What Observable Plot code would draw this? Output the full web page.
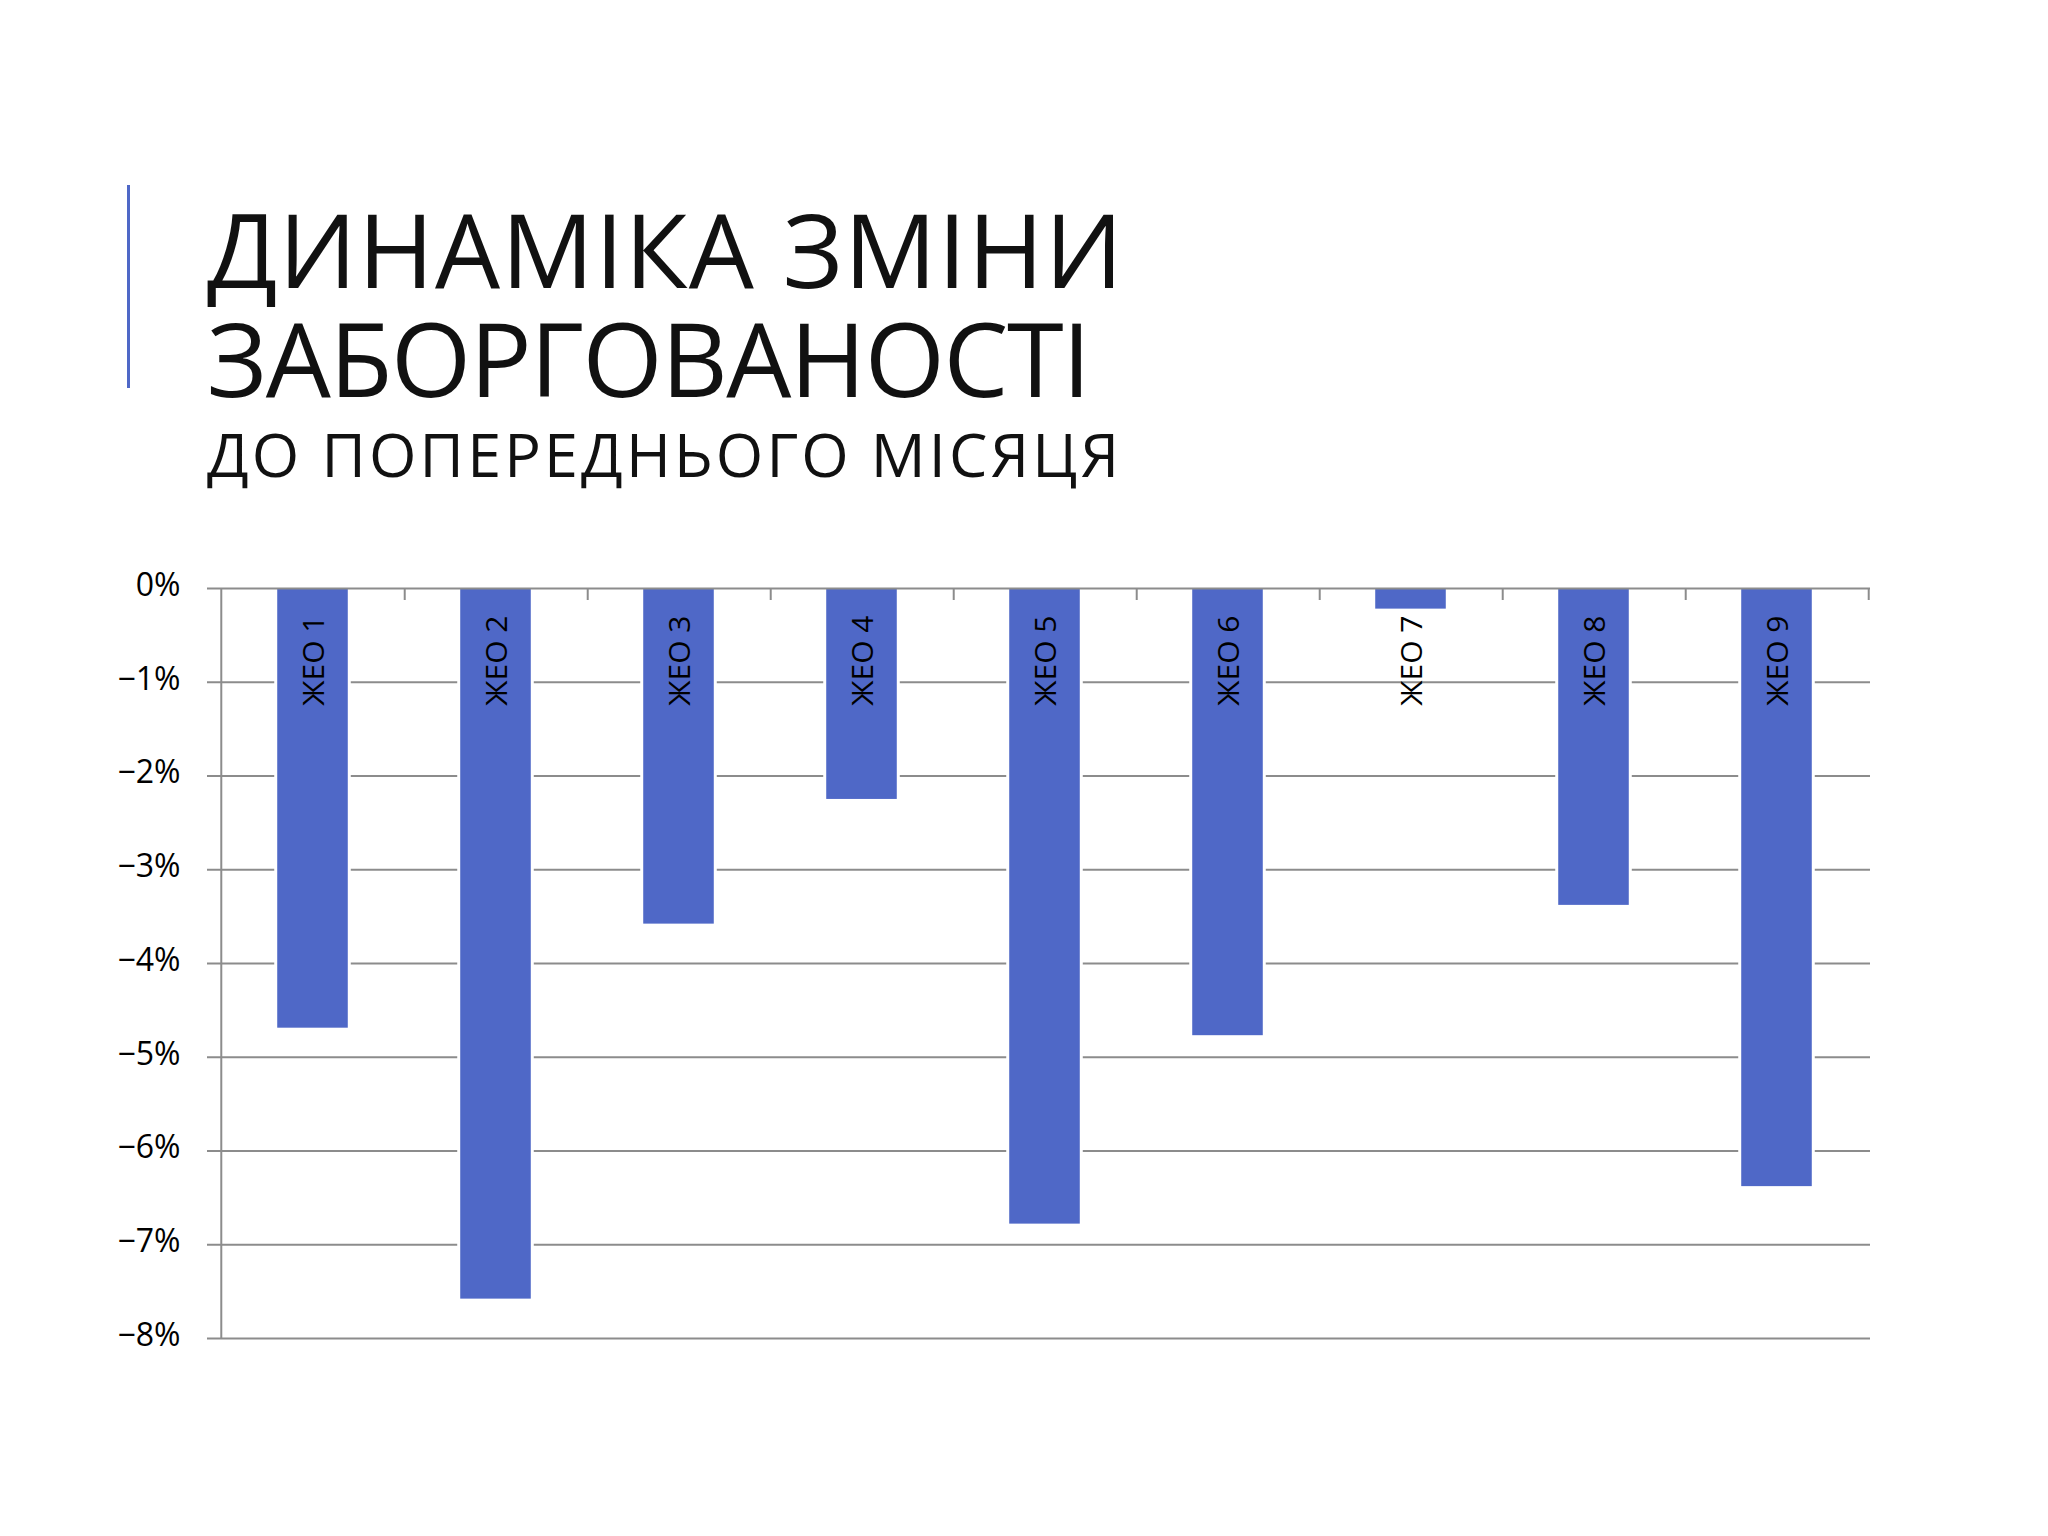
<!DOCTYPE html>
<html>
<head>
<meta charset="utf-8">
<script src="https://cdn.jsdelivr.net/npm/d3@7"></script>
<script src="https://cdn.jsdelivr.net/npm/@observablehq/plot@0.6"></script>
<style>
  html, body { margin: 0; padding: 0; background: #fff; }
  body { width: 2048px; height: 1536px; position: relative; overflow: hidden; font-family: "Open Sans", sans-serif; }
  .accent { position: absolute; left: 127px; top: 185px; width: 3px; height: 203px; background: #4f68c7; }
  .t { position: absolute; left: 207px; white-space: nowrap; color: #111; line-height: 1; font-family: "Open Sans", sans-serif; }
  #chart { position: absolute; left: 0; top: 540px; }
</style>
</head>
<body>
<div class="accent"></div>
<div class="t" id="t1"></div>
<div class="t" id="t2"></div>
<div class="t" id="t3"></div>
<div id="chart"></div>
<script>
const titleLines = ["ДИНАМІКА ЗМІНИ", "ЗАБОРГОВАНОСТІ"];
const subtitle = "ДО ПОПЕРЕДНЬОГО МІСЯЦЯ";
const categories = ["ЖЕО 1", "ЖЕО 2", "ЖЕО 3", "ЖЕО 4", "ЖЕО 5", "ЖЕО 6", "ЖЕО 7", "ЖЕО 8", "ЖЕО 9"];
const values = [-4.69, -7.58, -3.58, -2.25, -6.78, -4.77, -0.22, -3.38, -6.38];
const yTicks = [0, -1, -2, -3, -4, -5, -6, -7, -8];

// title layout: size, baseline, and target line width (matched via letter-spacing)
function place(el, text, size, baseline, target) {
  el.textContent = text;
  el.style.fontSize = size + "px";
  el.style.top = (baseline - 0.888 * size) + "px";
  const w = el.getBoundingClientRect().width;
  const ls = (target - w) / (text.length - 1);
  el.style.letterSpacing = ls + "px";
}
place(document.getElementById("t1"), titleLines[0], 103, 288, 916);
place(document.getElementById("t2"), titleLines[1], 103, 397, 884);
place(document.getElementById("t3"), subtitle, 61, 477, 912);

const data = categories.map((name, i) => ({name, value: values[i]}));

const W = 2048, H = 850, mL = 219, mR = 178, mT = 48, mB = 52;
const step = (W - mL - mR) / categories.length;
const barW = 71;
const inset = (step - barW) / 2;
const pxPerUnit = (H - mT - mB) / 8;
const grid = "#8c8c8c";

const chart = Plot.plot({
  width: W,
  height: H,
  marginLeft: mL,
  marginRight: mR,
  marginTop: mT,
  marginBottom: mB,
  style: {fontFamily: "Open Sans, sans-serif", color: "#000", background: "transparent"},
  x: {domain: categories, padding: 0, axis: null},
  y: {domain: [-8, 0], axis: null},
  marks: [
    Plot.ruleY(yTicks.filter(d => d !== 0), {stroke: grid, strokeWidth: 2, insetLeft: -12}),
    Plot.barY(data, {x: "name", y: "value", fill: "#fff", insetLeft: inset - 3, insetRight: inset - 3}),
    Plot.barY(data, {x: "name", y: "value", fill: "#4f68c7", insetLeft: inset, insetRight: inset}),
    Plot.ruleY([0], {stroke: grid, strokeWidth: 2, insetLeft: -12}),
    Plot.ruleX(categories, {x: d => d, y1: 0, y2: -12 / pxPerUnit, dx: step / 2, stroke: grid, strokeWidth: 2}),
    Plot.ruleX([categories[0]], {x: d => d, y1: 0, y2: -8, dx: -step / 2, stroke: grid, strokeWidth: 2}),
    Plot.text(data, {x: "name", y: () => 0, text: "name", rotate: -90, textAnchor: "end", dy: 27, dx: 1, fontSize: 30, fill: "#000"}),
    Plot.axisY({ticks: yTicks, tickSize: 0, tickPadding: 39, fontSize: 32, dy: -3, label: null,
      tickFormat: d => d === 0 ? "0%" : "\u2212" + Math.abs(d) + "%"})
  ]
});
document.getElementById("chart").appendChild(chart);
</script>
</body>
</html>
